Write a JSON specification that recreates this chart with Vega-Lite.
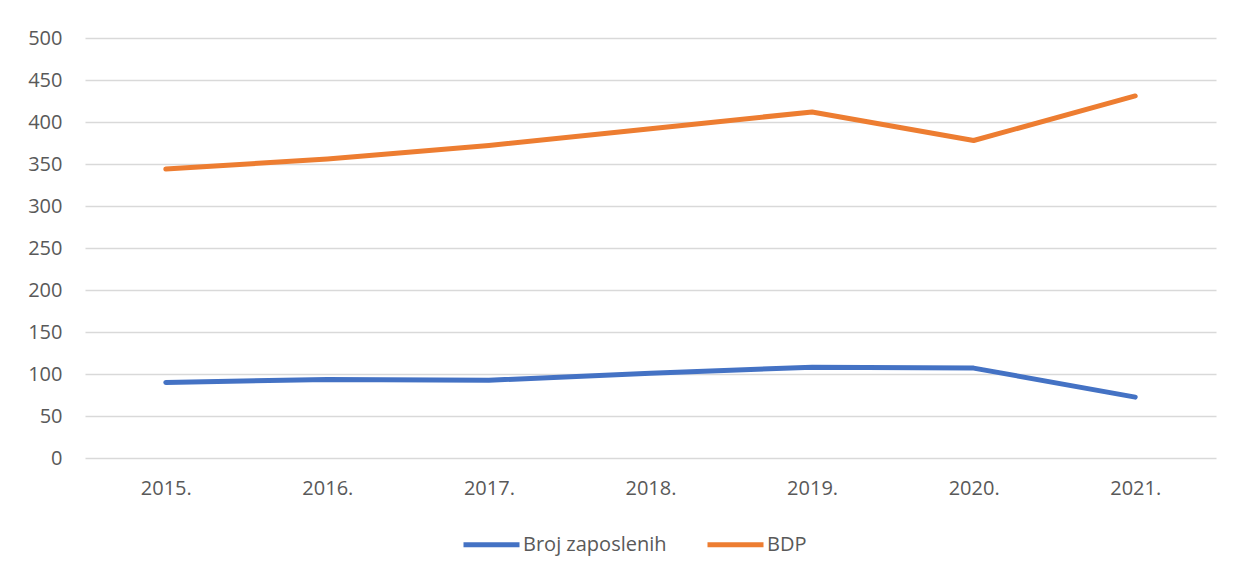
{
  "$schema": "https://vega.github.io/schema/vega-lite/v6.json",
  "width": 1131,
  "height": 420,
  "autosize": {"type": "none"},
  "padding": {"left": 85, "top": 38, "right": 17, "bottom": 117},
  "background": "white",
  "config": {
    "view": {"stroke": null},
    "font": "Open Sans"
  },
  "data": {
    "values": [
      {"year": "2015.", "series": "Broj zaposlenih", "value": 90},
      {"year": "2016.", "series": "Broj zaposlenih", "value": 93.5},
      {"year": "2017.", "series": "Broj zaposlenih", "value": 92.5},
      {"year": "2018.", "series": "Broj zaposlenih", "value": 101},
      {"year": "2019.", "series": "Broj zaposlenih", "value": 108},
      {"year": "2020.", "series": "Broj zaposlenih", "value": 107},
      {"year": "2021.", "series": "Broj zaposlenih", "value": 72.5},
      {"year": "2015.", "series": "BDP", "value": 344},
      {"year": "2016.", "series": "BDP", "value": 356},
      {"year": "2017.", "series": "BDP", "value": 372},
      {"year": "2018.", "series": "BDP", "value": 392},
      {"year": "2019.", "series": "BDP", "value": 412},
      {"year": "2020.", "series": "BDP", "value": 378},
      {"year": "2021.", "series": "BDP", "value": 431}
    ]
  },
  "mark": {"type": "line", "strokeWidth": 5, "strokeCap": "round", "strokeJoin": "round"},
  "encoding": {
    "x": {
      "field": "year",
      "type": "ordinal",
      "title": null,
      "scale": {"type": "point", "padding": 0.5},
      "axis": {
        "labelAngle": 0,
        "domain": false,
        "ticks": false,
        "labelFontSize": 20,
        "labelColor": "#595959",
        "labelPadding": 20,
        "labelBaseline": "top"
      }
    },
    "y": {
      "field": "value",
      "type": "quantitative",
      "title": null,
      "scale": {"domain": [0, 500], "nice": false},
      "axis": {
        "values": [0, 50, 100, 150, 200, 250, 300, 350, 400, 450, 500],
        "domain": false,
        "ticks": false,
        "grid": true,
        "gridColor": "#D9D9D9",
        "gridWidth": 1.3,
        "labelFontSize": 20,
        "labelColor": "#595959",
        "labelPadding": 23
      }
    },
    "color": {
      "field": "series",
      "type": "nominal",
      "scale": {"domain": ["Broj zaposlenih", "BDP"], "range": ["#4472C4", "#ED7D31"]},
      "legend": {
        "title": null,
        "orient": "none",
        "direction": "horizontal",
        "legendX": 376,
        "legendY": 476,
        "padding": 0,
        "symbolType": "stroke",
        "symbolSize": 3136,
        "symbolStrokeWidth": 5,
        "labelFontSize": 20,
        "labelColor": "#595959",
        "labelOffset": 1,
        "columnPadding": 30
      }
    }
  }
}
